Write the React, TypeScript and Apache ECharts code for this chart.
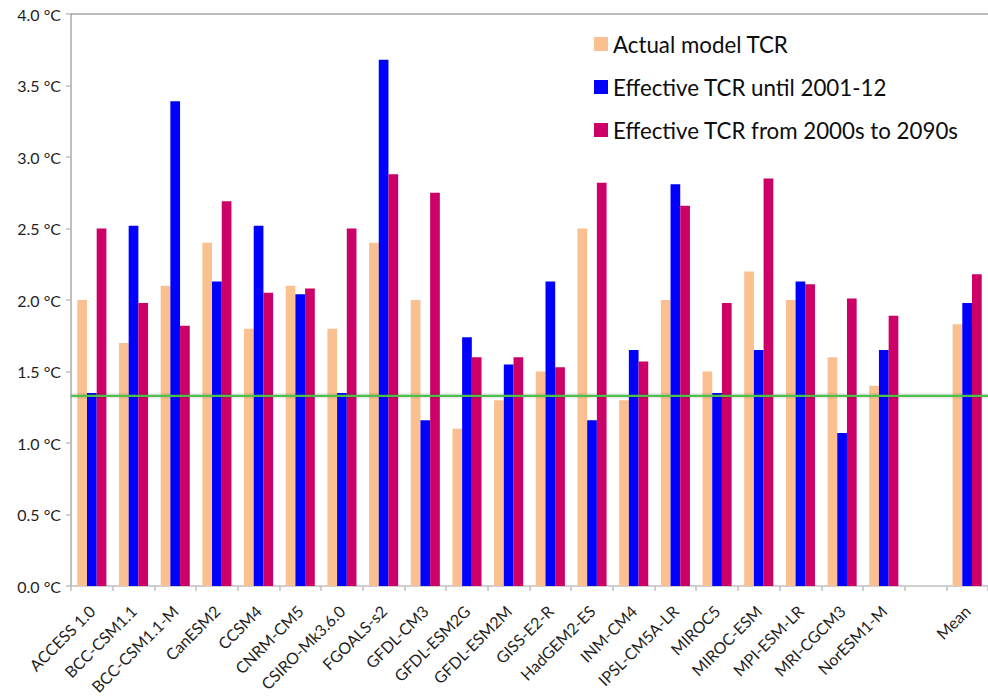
import React, { useEffect, useRef } from "react";
import * as echarts from "echarts";

const categories = [
  "ACCESS 1.0", "BCC-CSM1.1", "BCC-CSM1.1-M", "CanESM2", "CCSM4", "CNRM-CM5",
  "CSIRO-Mk3.6.0", "FGOALS-s2", "GFDL-CM3", "GFDL-ESM2G", "GFDL-ESM2M", "GISS-E2-R",
  "HadGEM2-ES", "INM-CM4", "IPSL-CM5A-LR", "MIROC5", "MIROC-ESM", "MPI-ESM-LR",
  "MRI-CGCM3", "NorESM1-M", "", "Mean",
];

const actualTCR = [
  2.0, 1.7, 2.1, 2.4, 1.8, 2.1, 1.8, 2.4, 2.0, 1.1, 1.3, 1.5, 2.5, 1.3, 2.0, 1.5, 2.2, 2.0, 1.6, 1.4, null, 1.83,
];
const effUntil2012 = [
  1.35, 2.52, 3.39, 2.13, 2.52, 2.04, 1.35, 3.68, 1.16, 1.74, 1.55, 2.13, 1.16, 1.65, 2.81, 1.35, 1.65, 2.13, 1.07, 1.65, null, 1.98,
];
const eff2000sTo2090s = [
  2.5, 1.98, 1.82, 2.69, 2.05, 2.08, 2.5, 2.88, 2.75, 1.6, 1.6, 1.53, 2.82, 1.57, 2.66, 1.98, 2.85, 2.11, 2.01, 1.89, null, 2.18,
];
const observedTCR = 1.33;
const yMax = 4;
const yTicks = [0, 0.5, 1, 1.5, 2, 2.5, 3, 3.5, 4];

const seriesNames = [
  "Actual model TCR",
  "Effective TCR until 2001-12",
  "Effective TCR from 2000s to 2090s",
];
const seriesColors = ["#FAC090", "#0000FF", "#CC0066"];

const FONT = "Lato";

export default function App() {
  const ref = useRef<HTMLDivElement>(null);
  useEffect(() => {
    if (!ref.current) return;
    const chart = echarts.init(ref.current, null, { renderer: "svg" });
    const data = [actualTCR, effUntil2012, eff2000sTo2090s];
    const hLine = (value: number) => [[0, value], [1, value]];
    chart.setOption({
      animation: false,
      backgroundColor: "#ffffff",
      textStyle: { fontFamily: FONT },
      grid: { left: 71, top: 14, width: 926, height: 576, containLabel: false },
      legend: {
        orient: "vertical",
        left: 589,
        top: 28,
        itemWidth: 14,
        itemHeight: 14,
        itemGap: 21,
        icon: "rect",
        data: seriesNames,
        textStyle: { fontFamily: FONT, fontSize: 22.3, color: "#0d0d0d", lineHeight: 22, padding: [0, 0, 0, 0] },
      },
      xAxis: [
        {
          type: "category",
          data: categories,
          boundaryGap: true,
          axisLine: { lineStyle: { color: "#BFBFBF", width: 1.5 } },
          axisTick: { show: true, length: 5, interval: 0, lineStyle: { color: "#BFBFBF", width: 1.5 } },
          axisLabel: {
            interval: 0,
            rotate: 45,
            margin: 22,
            fontFamily: FONT,
            fontSize: 16,
            color: "#1f1f1f",
          },
          splitLine: { show: false },
        },
        {
          type: "value",
          min: 0,
          max: 1,
          show: false,
          position: "top",
        },
      ],
      yAxis: {
        type: "value",
        min: 0,
        max: yMax,
        interval: 0.5,
        axisLine: { show: true, lineStyle: { color: "#BFBFBF", width: 2 } },
        axisTick: { show: true, length: 5, lineStyle: { color: "#BFBFBF", width: 1.5 } },
        axisLabel: {
          margin: 10,
          fontFamily: FONT,
          fontSize: 16,
          color: "#1f1f1f",
          formatter: (v: number) => (yTicks.includes(v) ? v.toFixed(1) + " °C" : ""),
        },
        splitLine: { show: false },
      },
      series: [
        ...seriesNames.map((name, i) => ({
          name,
          type: "bar",
          data: data[i],
          barWidth: 9.7,
          barGap: "0%",
          itemStyle: { color: seriesColors[i] },
        })),
        {
          name: "top border",
          type: "line",
          xAxisIndex: 1,
          data: hLine(yMax),
          symbol: "none",
          clip: false,
          silent: true,
          lineStyle: { color: "#7F7F7F", width: 1.2 },
          z: 1,
        },
        {
          name: "observed TCR halo",
          type: "line",
          xAxisIndex: 1,
          data: hLine(observedTCR),
          symbol: "none",
          silent: true,
          clip: false,
          lineStyle: { color: "rgba(0,0,0,0.07)", width: 6 },
          z: 4,
        },
        {
          name: "observed TCR",
          type: "line",
          xAxisIndex: 1,
          data: hLine(observedTCR),
          symbol: "none",
          silent: true,
          clip: false,
          lineStyle: { color: "#4CBF4C", width: 2.3 },
          z: 5,
        },
      ],
    });
    return () => chart.dispose();
  }, []);
  return (
    <div
      ref={ref}
      style={{ position: "absolute", left: 0, top: 0, width: 988, height: 697 }}
    />
  );
}
